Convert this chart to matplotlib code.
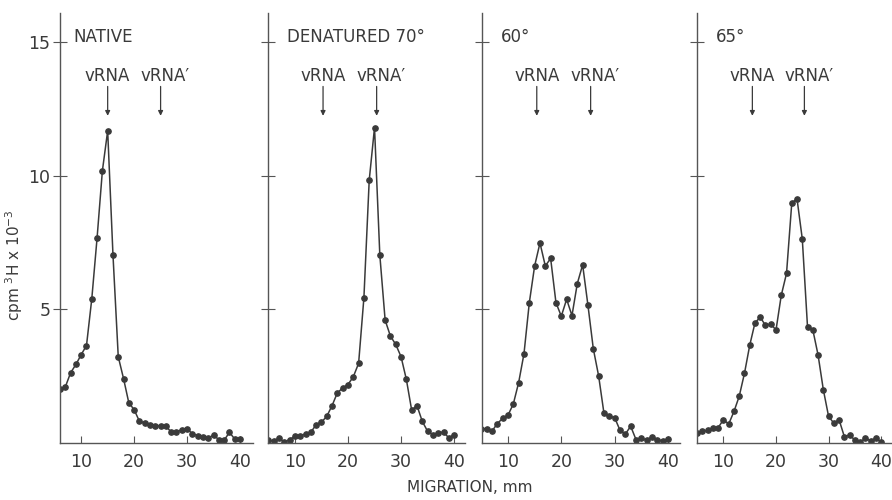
import matplotlib
matplotlib.use("Agg")
import matplotlib.pyplot as plt

# migration (mm) and counts (cpm 3H x 10^-3) per panel
x_native = list(range(6, 41))
y_native = [2.03, 2.1, 2.63, 2.94, 3.31, 3.65, 5.4, 7.68, 10.19, 11.69, 7.05, 3.23, 2.41, 1.5,
            1.25, 0.81, 0.75, 0.69, 0.65, 0.65, 0.63, 0.41, 0.41, 0.5, 0.53, 0.35, 0.28, 0.23,
            0.19, 0.29, 0.13, 0.1, 0.4, 0.15, 0.15]

x_den70 = list(range(5, 41))
y_den70 = [0.13, 0.06, 0.19, 0.03, 0.13, 0.25, 0.25, 0.35, 0.4, 0.69, 0.78, 1.0, 1.4, 1.88,
           2.06, 2.19, 2.48, 2.98, 5.44, 9.84, 11.81, 7.03, 4.6, 4.0, 3.69, 3.23, 2.38, 1.23,
           1.4, 0.81, 0.44, 0.31, 0.38, 0.41, 0.19, 0.31]

x_60 = list(range(5, 41))
y_60 = [0.54, 0.54, 0.44, 0.73, 0.92, 1.04, 1.46, 2.26, 3.34, 5.25, 6.63, 7.49, 6.63, 6.91,
        5.25, 4.75, 5.38, 4.77, 5.97, 6.67, 5.15, 3.53, 2.51, 1.11, 1.0, 0.95, 0.48, 0.33,
        0.63, 0.13, 0.19, 0.1, 0.23, 0.13, 0.08, 0.16]

x_65 = list(range(5, 41))
y_65 = [0.39, 0.45, 0.47, 0.55, 0.58, 0.87, 0.71, 1.18, 1.75, 2.61, 3.66, 4.5, 4.71, 4.4,
        4.46, 4.23, 5.53, 6.35, 8.99, 9.14, 7.64, 4.33, 4.24, 3.3, 2.0, 1.0, 0.74, 0.87,
        0.24, 0.3, 0.11, 0.03, 0.18, 0.08, 0.18, 0.05]

titles = ["NATIVE", "DENATURED 70°", "60°", "65°"]
arrow_pos = [(15, 25), (15.3, 25.4), (15.4, 25.5), (15.5, 25.4)]
xticks = [10, 20, 30, 40]
yticks = [5, 10, 15]

panels = [(x_native, y_native), (x_den70, y_den70), (x_60, y_60), (x_65, y_65)]
boxes = [[0.0673, 0.114, 0.216, 0.86],
         [0.300, 0.114, 0.221, 0.86],
         [0.540, 0.114, 0.222, 0.86],
         [0.781, 0.114, 0.218, 0.86]]
xlims = [(6.0, 42.4), (4.85, 42.0), (5.07, 42.2), (4.9, 41.9)]

ink = "#3a3a3a"
plt.rcParams["font.family"] = ["DejaVu Sans"]

fig = plt.figure(figsize=(8.92, 5.0), dpi=100)

for i, ((xs, ys), box) in enumerate(zip(panels, boxes)):
    ax = fig.add_axes(box)
    ax.plot(xs, ys, color=ink, lw=1.1, marker="o", ms=3.8, mfc=ink, mec=ink)
    ax.set_xlim(*xlims[i])
    ax.set_ylim(0, 16.1)
    for s in ["top", "right"]:
        ax.spines[s].set_visible(False)
    for s in ["left", "bottom"]:
        ax.spines[s].set_color("#555555")
        ax.spines[s].set_linewidth(1.0)
    ax.set_xticks(xticks)
    ax.set_xticklabels([str(t) for t in xticks])
    ax.tick_params(axis="x", direction="in", length=5, color="#555555",
                   labelsize=12.5, labelcolor=ink, pad=7)
    ax.set_yticks(yticks)
    if i == 0:
        ax.set_yticklabels([str(t) for t in yticks])
    else:
        ax.set_yticklabels([])
    ax.tick_params(axis="y", direction="inout", length=10, color="#555555",
                   labelsize=12.5, labelcolor=ink, pad=2)

    ax.text(8.6, 15.2, titles[i], fontsize=12, color=ink, ha="left", va="center")
    a1, a2 = arrow_pos[i]
    for xa, lab, dx in [(a1, "vRNA", 0.0), (a2, "vRNA′", 0.8)]:
        ax.text(xa + dx, 13.75, lab, fontsize=12, color=ink, ha="center", va="center")
        ax.annotate("", xy=(xa, 12.25), xytext=(xa, 13.35),
                    arrowprops=dict(arrowstyle="-|>", lw=0.9, color=ink,
                                    mutation_scale=7, shrinkA=0, shrinkB=0))

fig.text(0.016, 0.47, "cpm $^3$H x 10$^{-3}$", rotation=90, fontsize=11,
         color=ink, ha="center", va="center")
fig.text(0.527, 0.024, "MIGRATION, mm", fontsize=11, color=ink,
         ha="center", va="center")

fig.savefig("out.png", dpi=100)
